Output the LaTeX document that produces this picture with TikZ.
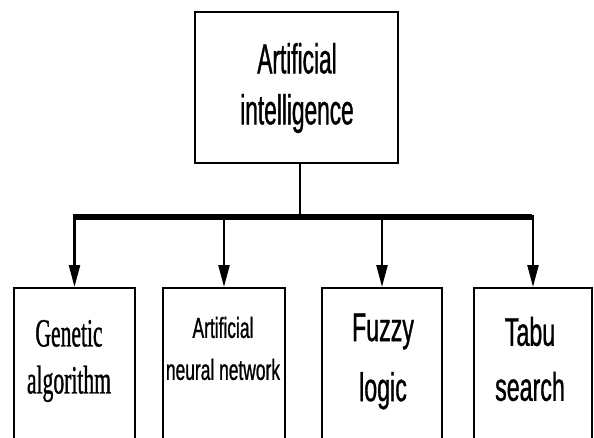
\documentclass[tikz,border=0pt]{standalone}
\usepackage{fontspec}
\usetikzlibrary{arrows.meta}
\newfontfamily\ArialTop[FakeStretch=0.54,FakeBold=0.8]{Liberation Sans}
\newfontfamily\ArialAnn[FakeStretch=0.60,FakeBold=0.8]{Liberation Sans}
\newfontfamily\ArialBig[FakeStretch=0.58,FakeBold=0.8]{Liberation Sans}
\newfontfamily\TimesNar[FakeStretch=0.54,FakeBold=0.8]{Liberation Serif}
\tikzset{
  boxnode/.style={draw=black, line width=2pt, fill=white, inner sep=0pt},
  txtnode/.style={align=center, inner sep=0pt},
  trunk/.style={line width=2.4pt},
  bar/.style={line width=5.5pt},
  branch/.style={line width=2.4pt, -{Triangle[length=22pt,width=11pt]}},
}
\begin{document}
\begin{tikzpicture}[x=1pt,y=-1pt]
\useasboundingbox (0,0) rectangle (594,437);
% top box
\node[boxnode, minimum width=203pt, minimum height=151pt] (ai) at (296.5,87.5) {};
\node[txtnode, font=\ArialTop\fontsize{42}{51}\selectfont] (aitext) at (297,88) {Artificial\\intelligence};
% bottom boxes
\node[boxnode, minimum width=121pt, minimum height=154pt, anchor=north] (ga) at (74.5,287) {};
\node[boxnode, minimum width=122pt, minimum height=154pt, anchor=north] (ann) at (224,287) {};
\node[boxnode, minimum width=120pt, minimum height=154pt, anchor=north] (fl) at (382,287) {};
\node[boxnode, minimum width=118pt, minimum height=154pt, anchor=north] (ts) at (533,287) {};
\node[txtnode, font=\TimesNar\fontsize{40}{47}\selectfont] (gatext) at (69,361) {Genetic\\algorithm};
\node[txtnode, font=\ArialAnn\fontsize{29}{42}\selectfont] (anntext) at (223,348.5) {Artificial\\neural network};
\node[txtnode, font=\ArialBig\fontsize{40}{60}\selectfont] (fltext) at (383,361.5) {Fuzzy\\logic};
\node[txtnode, font=\ArialBig\fontsize{40}{55}\selectfont] (tstext) at (530,359) {Tabu\\search};
% connectors
\coordinate (t) at (300,163);
\coordinate (j) at (300,217);
\coordinate (bl) at (73,217);
\coordinate (br) at (532,217);
\draw[trunk] (t) -- (j);
\draw[bar] (bl) -- (br);
\draw[branch] (ga.north |- bl) ++(0,-2) -- (ga.north);
\draw[branch] (ann.north |- bl) ++(0,-2) -- (ann.north);
\draw[branch] (fl.north |- bl) ++(0,-2) -- (fl.north);
\draw[branch] (ts.north |- bl) ++(0,-2) -- (ts.north);
\end{tikzpicture}
\end{document}
